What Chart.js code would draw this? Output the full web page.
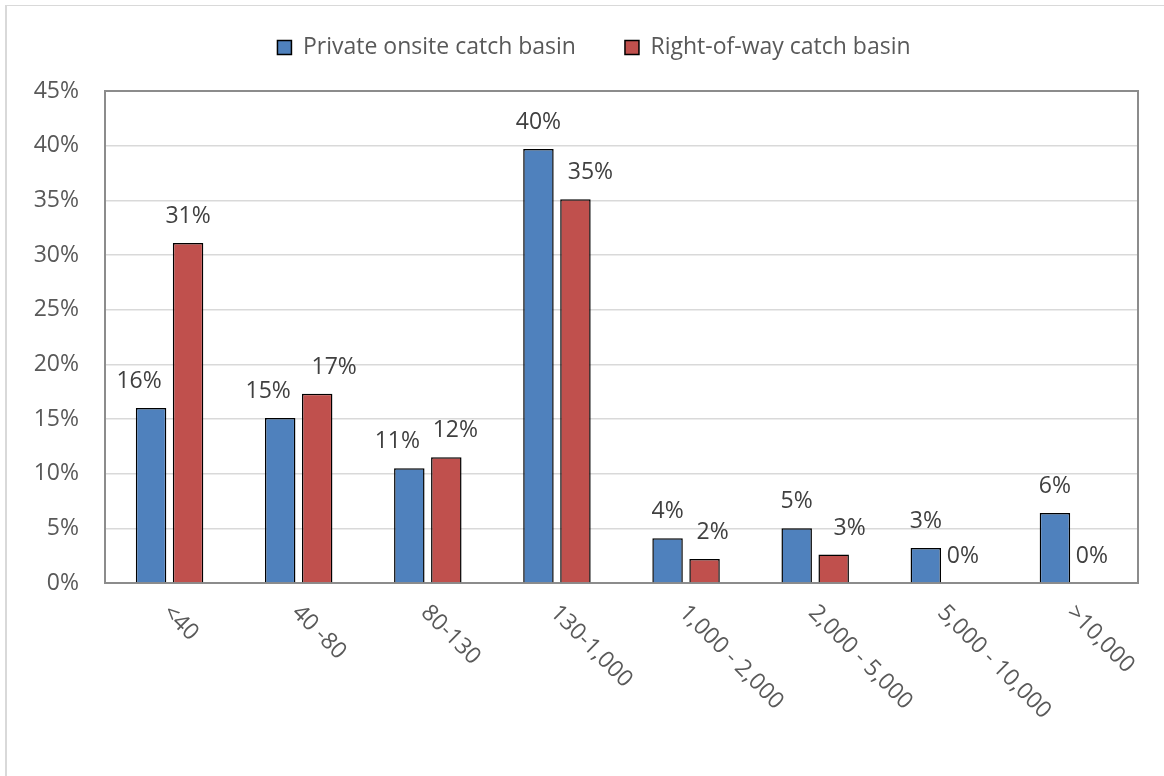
<!DOCTYPE html>
<html>
<head>
<meta charset="utf-8">
<script src="https://cdn.jsdelivr.net/npm/chart.js@4.4.1/dist/chart.umd.min.js"></script>
<style>
  html, body { margin: 0; padding: 0; background: #fff; }
  #wrap { position: relative; width: 1164px; height: 776px; }
  #frame { position: absolute; left: 5px; top: 5px; width: 1170px; height: 780px; border-left: 2px solid #d9d9d9; border-top: 1px solid #d9d9d9; }
  canvas { position: absolute; left: 0; top: 0; }
</style>
</head>
<body>
<div id="wrap">
  <div id="frame"></div>
  <canvas id="chart" width="1164" height="776"></canvas>
</div>
<script>
// categories and values (percent)
const categories = ['<40', '40 -80', '80-130', '130-1,000', '1,000 - 2,000', '2,000 - 5,000', '5,000 - 10,000', '>10,000'];
const privateOnsite = [16.0, 15.1, 10.5, 39.7, 4.1, 5.0, 3.2, 6.4];
const rightOfWay = [31.1, 17.3, 11.5, 35.1, 2.2, 2.6, 0, 0];
const yTicks = [0, 5, 10, 15, 20, 25, 30, 35, 40, 45];

const FONT = '"Open Sans", sans-serif';
const textColor = '#595959';

// small horizontal nudges for the value labels, like excel puts them
const labelNudge = [
  [-12, -12, -12, 0, 0, 0, 0, 0],
  [0, 17, 9, 15, 8, 16, 0, 0]
];

// plot area border + value labels + rotated category labels
const decorPlugin = {
  id: 'decor',
  beforeLayout(chart) {
    // taller legend box so the plot starts lower, and shift it a bit right
    const lg = chart.legend;
    if (lg && !lg._patched) {
      const fit = lg.fit;
      lg.fit = function () { fit.call(this); this.height += 22; };
      const draw = lg.draw;
      lg.draw = function () {
        this.ctx.save();
        this.ctx.translate(25, 0);
        draw.call(this);
        this.ctx.restore();
      };
      lg._patched = true;
    }
  },
  beforeDatasetsDraw(chart) {
    const { ctx, chartArea: a } = chart;
    ctx.save();
    ctx.strokeStyle = '#8c8c8c';
    ctx.lineWidth = 2;
    ctx.strokeRect(a.left, a.top, a.right - a.left, a.bottom - a.top);
    ctx.restore();
  },
  afterDatasetsDraw(chart) {
    const { ctx } = chart;
    ctx.save();
    ctx.font = '23px ' + FONT;
    ctx.fillStyle = '#404040';
    ctx.textAlign = 'center';
    ctx.textBaseline = 'alphabetic';
    chart.data.datasets.forEach((ds, di) => {
      const meta = chart.getDatasetMeta(di);
      meta.data.forEach((bar, i) => {
        const txt = Math.round(ds.data[i]) + '%';
        ctx.fillText(txt, bar.x + labelNudge[di][i], bar.y - 20);
      });
    });
    // x labels, rotated 45deg clockwise
    const xs = chart.scales.x;
    ctx.font = '23px ' + FONT;
    ctx.fillStyle = textColor;
    ctx.textAlign = 'left';
    ctx.textBaseline = 'top';
    categories.forEach((c, i) => {
      const x = xs.getPixelForValue(i);
      ctx.save();
      ctx.translate(x + 5, 601);
      ctx.rotate(Math.PI / 4);
      ctx.fillText(c, 0, 0);
      ctx.restore();
    });
    ctx.restore();
  }
};

new Chart(document.getElementById('chart'), {
  type: 'bar',
  data: {
    labels: categories,
    datasets: [{
      label: 'Private onsite catch basin',
      data: privateOnsite,
      backgroundColor: '#4f81bd',
      borderColor: '#000000',
      borderWidth: 1.5,
      categoryPercentage: 0.573,
      barPercentage: 0.824
    }, {
      label: 'Right-of-way catch basin',
      data: rightOfWay,
      backgroundColor: '#c0504d',
      borderColor: '#000000',
      borderWidth: 1.5,
      categoryPercentage: 0.573,
      barPercentage: 0.824
    }]
  },
  options: {
    responsive: false,
    animation: false,
    layout: { padding: { top: -13, right: 26, left: 0, bottom: 0 } },
    plugins: {
      tooltip: { enabled: false },
      legend: {
        position: 'top',
        labels: {
          boxWidth: 14,
          boxHeight: 14,
          padding: 49,
          color: textColor,
          font: { family: FONT, size: 23 }
        }
      }
    },
    scales: {
      x: {
        grid: { display: false, drawTicks: false },
        border: { display: false },
        ticks: { display: false },
        afterFit(scale) { scale.height = 193; }
      },
      y: {
        min: 0,
        max: 45,
        afterBuildTicks(scale) { scale.ticks = yTicks.map(v => ({ value: v })); },
        afterFit(scale) { scale.width = 105; },
        grid: { color: '#d9d9d9', lineWidth: 1.5, drawTicks: false },
        border: { display: false },
        ticks: {
          padding: 26,
          color: textColor,
          font: { family: FONT, size: 23 },
          callback: v => v + '%'
        }
      }
    }
  },
  plugins: [decorPlugin]
});
</script>
</body>
</html>
